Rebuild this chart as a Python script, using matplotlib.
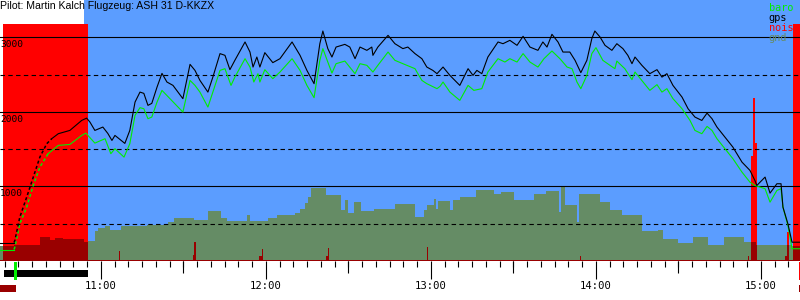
import numpy as np
import matplotlib
matplotlib.use('Agg')
import matplotlib.pyplot as plt
from matplotlib.patches import Rectangle
from matplotlib.ticker import FuncFormatter

SKY   = '#5b9dff'
GND   = '#658c65'
NOIS  = '#ff0000'
DNOIS = '#990000'
BARO  = '#00ee00'
MONO  = 'DejaVu Sans Mono'

TITLE = 'Pilot: Martin Kalch Flugzeug: ASH 31 D-KKZX'

# time in minutes after 10:00, altitude in m
gps_t = [23.3, 28.4, 28.7, 30.5, 33.0, 35.4, 37.8, 40.3, 42.1, 44.5, 48.7, 53.0, 54.8, 56.0,
         57.8, 60.7, 62.5, 64.0, 65.1, 68.7, 70.5, 72.4, 74.2, 75.6, 77.1, 78.5, 80.4, 82.2,
         84.0, 86.2, 89.8, 92.4, 94.2, 96.0, 98.9, 100.7, 103.3, 105.1, 106.9, 108.7, 112.4,
         114.2, 115.3, 116.7, 117.8, 119.6, 122.5, 125.1, 129.5, 132.4, 134.9, 137.5, 139.6,
         140.7, 142.5, 144.0, 145.5, 148.7, 150.5, 152.4, 154.2, 156.7, 158.5, 158.9, 160.7,
         164.4, 166.9, 169.8, 171.6, 174.2, 176.7, 178.5, 180.7, 182.2, 183.3, 184.4, 186.9,
         190.5, 193.5, 195.3, 196.7, 198.5, 200.7, 204.4, 206.2, 208.7, 211.3, 213.5, 216.0,
         218.9, 220.7, 222.2, 224.0, 226.2, 228.0, 230.5, 232.4, 234.5, 236.7, 238.5, 239.6,
         241.5, 243.3, 245.8, 247.6, 249.8, 251.6, 253.1, 254.2, 256.7, 259.6, 262.2, 264.0,
         265.8, 268.0, 271.3, 273.5, 276.0, 278.5, 280.4, 282.2, 284.0, 286.9, 289.8, 293.1,
         296.0, 297.8, 298.5, 301.5, 303.3, 305.8, 307.3, 308.0, 309.8, 311.3, 314.2]
gps_alt = [248, 248, 275, 588, 856, 1125, 1393, 1573, 1640, 1707, 1751, 1885, 1916, 1863,
           1751, 1796, 1711, 1617, 1684, 1577, 1751, 2131, 2265, 2248, 2087, 2114, 2332, 2516,
           2400, 2355, 2177, 2637, 2556, 2422, 2265, 2466, 2781, 2758, 2566, 2691, 2937,
           2802, 2601, 2735, 2601, 2794, 2660, 2713, 2937, 2758, 2556, 2378, 2914,
           3084, 2848, 2735, 2869, 2905, 2869, 2713, 2869, 2825, 2869, 2758, 2869,
           3026, 2914, 2848, 2869, 2781, 2713, 2601, 2556, 2512, 2556, 2601, 2489,
           2355, 2579, 2489, 2556, 2512, 2735, 2937, 2914, 2959, 2892, 3013, 2869,
           2825, 2937, 2869, 3040, 2937, 2802, 2802, 2691, 2526, 2691, 2982, 3084,
           3003, 2892, 2825, 2914, 2848, 2758, 2646, 2735, 2624, 2512, 2566, 2466,
           2512, 2355, 2198, 2042, 1930, 1885, 1983, 1908, 1796, 1661, 1527, 1326,
           1215, 1080, 1013, 1125, 910, 1036, 1036, 722, 499, 252, 252]

baro_t = [23.3, 28.4, 28.7, 30.5, 33.0, 35.4, 37.8, 40.8, 44.5, 48.7, 53.0, 54.5, 57.8, 61.5,
          63.6, 65.1, 68.4, 70.5, 72.4, 74.2, 75.6, 77.1, 78.5, 80.4, 82.2, 85.1, 89.8, 92.4,
          94.2, 96.0, 98.9, 100.7, 103.3, 105.1, 107.3, 108.7, 112.4, 114.2, 115.6, 117.1,
          117.8, 119.6, 122.5, 125.1, 129.5, 132.4, 134.9, 137.5, 139.6, 140.7, 142.5, 144.0,
          145.5, 148.7, 152.4, 154.2, 156.7, 158.9, 160.7, 164.4, 166.9, 169.8, 174.2, 176.7,
          178.5, 182.2, 183.3, 184.4, 186.9, 190.5, 193.5, 195.6, 198.5, 200.7, 204.4, 206.9,
          208.7, 211.3, 213.5, 216.0, 218.9, 221.1, 224.0, 226.9, 229.5, 231.3, 233.1, 234.5,
          236.7, 238.5, 240.0, 242.5, 245.1, 246.9, 247.6, 250.5, 253.1, 254.2, 259.6, 262.2,
          264.0, 265.8, 268.0, 271.3, 274.2, 276.0, 278.5, 280.4, 282.2, 284.0, 286.9, 289.8,
          293.1, 296.0, 297.8, 301.5, 303.3, 305.8, 307.3, 308.0, 309.8, 311.3, 314.2]
baro_alt = [154, 154, 185, 499, 722, 1013, 1259, 1439, 1550, 1563, 1684, 1715, 1581, 1640,
            1439, 1506, 1393, 1573, 1953, 2056, 2042, 1908, 1930, 2131, 2288, 2177, 1997, 2422,
            2355, 2265, 2064, 2265, 2556, 2579, 2355, 2466, 2713, 2601, 2400, 2512,
            2400, 2566, 2445, 2534, 2713, 2556, 2355, 2190, 2691, 2848, 2668, 2520,
            2646, 2681, 2512, 2646, 2624, 2534, 2624, 2802, 2691, 2646, 2579, 2422,
            2378, 2311, 2342, 2400, 2265, 2154, 2355, 2288, 2311, 2534, 2713, 2668,
            2713, 2668, 2781, 2668, 2601, 2713, 2816, 2713, 2601, 2579, 2400, 2311,
            2489, 2781, 2861, 2691, 2624, 2579, 2681, 2579, 2432, 2534, 2288, 2365,
            2265, 2311, 2177, 2042, 1885, 1751, 1707, 1805, 1751, 1640, 1506, 1372,
            1192, 1057, 1013, 969, 789, 946, 969, 722, 476, 164, 164]

# terrain below the track, step-wise (value holds until the next time)
gnd_t = [23.3, 24.4, 28.4, 37.8, 41.5, 43.3, 46.2, 53.8, 55.3, 57.8, 58.9, 61.5, 63.3, 67.3,
         76.7, 84.4, 86.5, 93.8, 98.9, 103.6, 105.8, 113.1, 114.2, 120.7, 124.0, 130.5, 132.4,
         134.2, 135.3, 136.4, 141.8, 147.3, 148.7, 149.8, 152.0, 154.5, 159.3, 166.9, 174.2,
         177.5, 178.5, 181.1, 181.8, 182.5, 186.9, 188.0, 190.5, 196.4, 202.9, 205.5, 210.2,
         217.5, 221.8, 226.5, 227.3, 228.7, 233.1, 233.8, 241.5, 245.1, 249.5, 256.7, 262.5,
         264.4, 269.8, 275.3, 280.7, 286.5, 293.8, 298.2, 311.3, 314.2]
gnd_alt = [195, 195, 221, 320, 288, 315, 300, 260, 262, 409, 445, 463, 419, 467,
           480, 521, 574, 553, 664, 574, 530, 611, 530, 580, 611, 641, 700,
           780, 856, 982, 879, 678, 812, 641, 789, 668, 691, 768, 588,
           687, 745, 835, 700, 803, 678, 812, 856, 946, 902, 923, 812,
           902, 937, 655, 990, 745, 521, 892, 789, 678, 611, 409, 419,
           298, 239, 320, 208, 320, 252, 208, 195, 195]

# engine noise level (0..1000), step-wise
nois_t = [23.3, 24.4, 55.3, 66.7, 67.1, 93.6, 94.0, 94.4, 117.6, 118.7, 119.1, 142.0, 142.4,
          142.8, 178.7, 179.1, 234.3, 234.7, 295.4, 295.8, 296.5, 297.2, 298.0, 298.6, 308.7,
          309.6, 310.3, 311.5, 314.2]
nois_v = [6, 1000, 6, 44, 6, 25, 82, 6, 23, 49, 6, 23, 53,
          6, 57, 6, 23, 6, 23, 6, 441, 686, 496, 6, 23,
          122, 6, 1000, 1000]

T0, T1 = 23.3, 314.2
ALT_TOP = 3500
NOIS_FULL = 1100
SKY_START = 53.8
ENGINE_RUN = (24.8, 55.3)
TAKEOFF = (28.4, 29.4)
CLIMB_END = 40.5
LOG_START = (23.3, 29.1)
LOG_END = (313.8, 314.2)

hours = [60, 120, 180, 240, 300]
half_hours = [90, 150, 210, 270]

legend_items = [('baro', BARO), ('gps', 'black'), ('nois', NOIS), ('gnd', GND)]


def step_at(t_src, v_src, t):
    idx = np.searchsorted(t_src, t, side='right') - 1
    return np.asarray(v_src, dtype=float)[np.clip(idx, 0, None)]


def plot_track(ax, t, alt, color):
    # fast engine climb drawn broken, like the sparse fixes in the logger plot
    t, alt = np.asarray(t), np.asarray(alt)
    i0 = np.searchsorted(t, TAKEOFF[0], side='right') - 1
    i1 = np.searchsorted(t, CLIMB_END)
    ax.plot(t[:i0 + 1], alt[:i0 + 1], color=color, lw=0.8, zorder=5)
    ax.plot(t[i0:i1 + 1], alt[i0:i1 + 1], color=color, lw=1.1, ls=(0, (2, 1.6)), zorder=5)
    ax.plot(t[i1:], alt[i1:], color=color, lw=0.8, zorder=5)


fig = plt.figure(figsize=(8, 3), dpi=100)
fig.patch.set_facecolor('white')
AX_H = 261
ax = fig.add_axes([0, 39 / 300, 1, AX_H / 300])
ax.set_facecolor('white')
ax.set_xlim(T0, T1)
ax.set_ylim(0, ALT_TOP)


def px(p):
    # pixels below the axes -> axes fraction
    return -p / AX_H


ax.axvspan(SKY_START, T1, color=SKY, lw=0, zorder=0)

tm = np.union1d(gnd_t, nois_t)
g = step_at(gnd_t, gnd_alt, tm)
n = step_at(nois_t, nois_v, tm) * ALT_TOP / NOIS_FULL
ax.fill_between(tm, 0, n, step='post', color=NOIS, lw=0, zorder=1)
ax.fill_between(tm, 0, g, step='post', color=GND, lw=0, zorder=2)
ax.fill_between(tm, 0, np.minimum(g, n), step='post', color=DNOIS, lw=0, zorder=3)

for v in (1000, 2000, 3000):
    ax.axhline(v, color='black', lw=0.8, zorder=4)
for v in (500, 1500, 2500):
    ax.axhline(v, color='black', lw=0.8, ls=(0, (4, 3)), zorder=4)
for v in (1000, 2000, 3000):
    ax.annotate(str(v), (T0, v), xytext=(0, -2), textcoords='offset points',
                ha='left', va='top', fontsize=6.8, family=MONO, zorder=6)

plot_track(ax, baro_t, baro_alt, BARO)
plot_track(ax, gps_t, gps_alt, 'black')

ax.text(0.0, 0.997, TITLE, transform=ax.transAxes, ha='left', va='top',
        fontsize=7.6, family='Liberation Sans', zorder=7)
for i, (lab, col) in enumerate(legend_items):
    ax.text(0.961, 1 - (3 + 10 * i) / AX_H, lab, transform=ax.transAxes,
            ha='left', va='top', fontsize=7.4, family=MONO, color=col, zorder=7)

# time axis
for s in ax.spines.values():
    s.set_visible(False)
ax.set_yticks([])
ax.set_xticks(hours)
ax.set_xticks(np.arange(25, T1, 5), minor=True)
ax.xaxis.set_major_formatter(FuncFormatter(lambda t, _: f'{10 + int(t // 60)}:{int(t % 60):02d}'))
ax.tick_params(axis='x', which='major', length=13, width=0.8, pad=1.5,
               labelsize=7.6, direction='out')
ax.tick_params(axis='x', which='minor', length=4.3, width=0.8, direction='out')
for lab in ax.get_xticklabels():
    lab.set_family(MONO)
trans = ax.get_xaxis_transform()
ax.vlines(half_hours, px(0), px(12), color='black', lw=0.8, transform=trans, clip_on=False)

# logger marks below the axis
marks = [(ENGINE_RUN, 9, 16, 'black'), (TAKEOFF, 1, 19, BARO),
         (LOG_START, 24, 31, DNOIS), (LOG_END, 1, 19, NOIS), (LOG_END, 24, 31, DNOIS)]
for (a, b), top, bot, col in marks:
    ax.add_patch(Rectangle((a, px(bot)), b - a, px(top) - px(bot), transform=trans,
                           color=col, lw=0, clip_on=False, zorder=8))

fig.savefig('out.png', dpi=100)
